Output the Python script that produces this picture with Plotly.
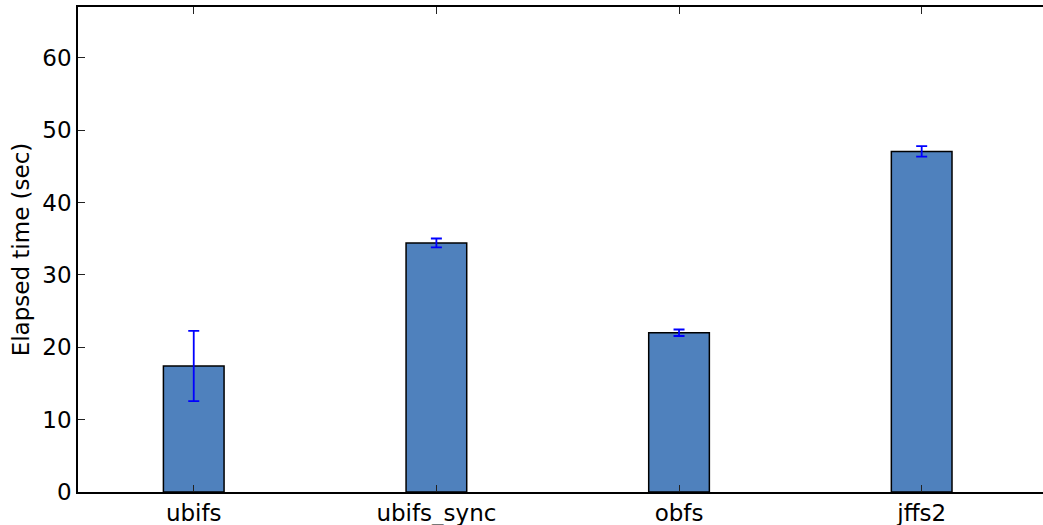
import plotly.graph_objects as go

categories = ["ubifs", "ubifs_sync", "obfs", "jffs2"]
elapsed = [17.4, 34.4, 22.0, 47.05]
errors = [4.85, 0.62, 0.45, 0.72]
y_ticks = [0, 10, 20, 30, 40, 50, 60]

positions = list(range(len(categories)))
font = dict(family="DejaVu Sans", size=23, color="black")

fig = go.Figure()
fig.add_trace(go.Bar(
    x=positions, y=elapsed, width=0.25,
    marker=dict(color="#4f81bd", line=dict(color="black", width=1.5)),
    error_y=dict(type="data", array=errors, visible=True, color="#0000ff",
                 thickness=1.8, width=5.5),
))

fig.update_layout(
    width=1043, height=525,
    margin=dict(l=78, r=0, t=7, b=33),
    plot_bgcolor="white", paper_bgcolor="white",
    font=font, showlegend=False,
    xaxis=dict(
        range=[-0.477, 3.5], tickvals=positions, ticktext=categories,
        showline=True, linecolor="black", linewidth=1.5, mirror="ticks",
        ticks="inside", ticklen=7, tickwidth=1.2, tickcolor="#222",
        showgrid=False, zeroline=False, tickfont=font, layer="above traces",
    ),
    yaxis=dict(
        range=[0, 67], tickvals=y_ticks,
        showline=True, linecolor="black", linewidth=1.5,
        ticks="inside", ticklen=7, tickwidth=1.2, tickcolor="#222",
        showgrid=False, zeroline=False, tickfont=font, layer="above traces",
        title=dict(text="Elapsed time (sec)", font=font, standoff=6),
    ),
)

fig.write_html("out.html")
